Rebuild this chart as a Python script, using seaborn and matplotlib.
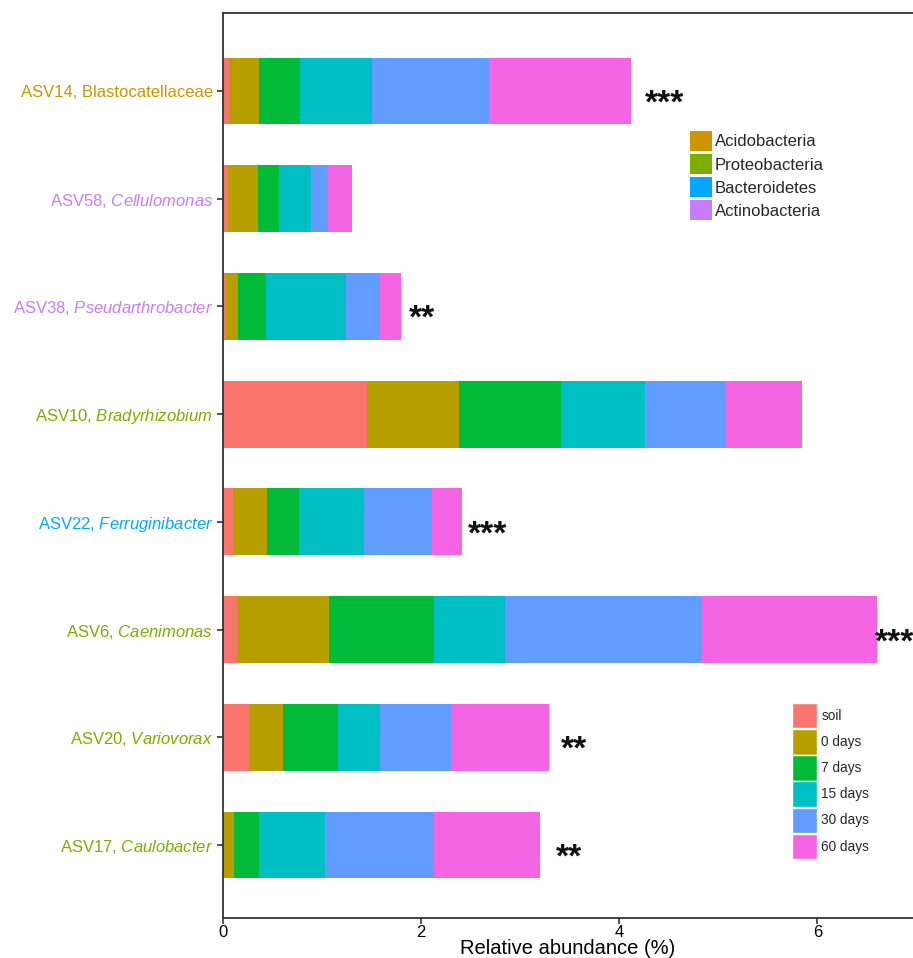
import matplotlib
matplotlib.use("Agg")
import matplotlib.pyplot as plt
from matplotlib.patches import Patch
import numpy as np
import pandas as pd
import seaborn as sns

# ---- data -------------------------------------------------------------
asv_ids = ["ASV14", "ASV58", "ASV38", "ASV10", "ASV22", "ASV6", "ASV20", "ASV17"]
taxa = ["Blastocatellaceae", "Cellulomonas", "Pseudarthrobacter", "Bradyrhizobium",
        "Ferruginibacter", "Caenimonas", "Variovorax", "Caulobacter"]
taxon_is_genus = [False, True, True, True, True, True, True, True]
phylum = ["Acidobacteria", "Actinobacteria", "Actinobacteria", "Proteobacteria",
          "Bacteroidetes", "Proteobacteria", "Proteobacteria", "Proteobacteria"]

stages = ["soil", "0 days", "7 days", "15 days", "30 days", "60 days"]
soil = [0.06, 0.05, 0.03, 1.454, 0.104, 0.145, 0.261, 0.005]
day0 = [0.305, 0.31, 0.12, 0.931, 0.345, 0.925, 0.346, 0.108]
day7 = [0.415, 0.21, 0.285, 1.025, 0.315, 1.064, 0.555, 0.252]
day15 = [0.725, 0.325, 0.805, 0.854, 0.659, 0.713, 0.424, 0.666]
day30 = [1.185, 0.165, 0.345, 0.816, 0.687, 1.988, 0.714, 1.10]
day60 = [1.43, 0.24, 0.21, 0.763, 0.307, 1.768, 0.989, 1.069]

significance = ["***", "", "**", "", "***", "***", "**", "**"]
sig_x = [4.26, 0, 1.88, 0, 2.47, 6.58, 3.41, 3.36]

phyla = ["Acidobacteria", "Proteobacteria", "Bacteroidetes", "Actinobacteria"]
phylum_colors = ["#CD9600", "#7CAE00", "#00A9FF", "#C77CFF"]
stage_colors = ["#F8766D", "#B79F00", "#00BA38", "#00BFC4", "#619CFF", "#F564E3"]

# ---- table ------------------------------------------------------------
df = pd.DataFrame({"asv": asv_ids, "soil": soil, "0 days": day0, "7 days": day7,
                   "15 days": day15, "30 days": day30, "60 days": day60})
cum = df[stages].cumsum(axis=1)

sns.set_theme(style="white")
plt.rcParams["font.family"] = ["Liberation Sans", "DejaVu Sans"]
plt.rcParams["mathtext.fontset"] = "custom"
plt.rcParams["mathtext.rm"] = "Liberation Sans"
plt.rcParams["mathtext.it"] = "Liberation Sans:italic"

W, H = 913, 958
fig = plt.figure(figsize=(W / 100, H / 100), dpi=100)
x0_px, unit_px = 222.8, 99.1
top_px, bot_px = 13, 918
ax = fig.add_axes([x0_px / W, 1 - bot_px / H, (W - x0_px) / W, (bot_px - top_px) / H])

# stacked bars: draw cumulative totals from the outermost stage inward
for i in range(len(stages) - 1, -1, -1):
    sns.barplot(x=cum[stages[i]].values, y=df["asv"].values, orient="h",
                color=stage_colors[i], saturation=1, width=0.62,
                linewidth=0, ax=ax)

ax.set_xlim(0, (W - x0_px) / unit_px)
# bar centres at 91 px (first) and 845 px (last)
step = (845 - 91) / 7
ax.set_ylim(7 + (bot_px - 845) / step, -(91 - top_px) / step)

ax.set_xticks([0, 2, 4, 6])
ax.set_xlabel("Relative abundance (%)", fontsize=14.5, color="black", labelpad=-1)
ax.set_ylabel("")

labels = []
for a, t, g in zip(asv_ids, taxa, taxon_is_genus):
    labels.append(f"{a}, $\\mathit{{{t}}}$" if g else f"{a}, {t}")
ax.set_yticks(range(len(asv_ids)))
ax.set_yticklabels(labels, fontsize=12)
cmap = dict(zip(phyla, phylum_colors))
for lab, p in zip(ax.get_yticklabels(), phylum):
    lab.set_color(cmap[p])

ax.tick_params(axis="x", labelsize=12, labelcolor="black", length=4, width=1.2,
               color="#333333", direction="out", pad=1, bottom=True)
ax.tick_params(axis="y", length=4, width=1.2, color="#333333", direction="out",
               pad=3, left=True)

for side in ["left", "bottom", "top"]:
    ax.spines[side].set_visible(True)
    ax.spines[side].set_color("#333333")
    ax.spines[side].set_linewidth(1.3)
ax.spines["right"].set_visible(False)

# significance markers
for i, (s, xs) in enumerate(zip(significance, sig_x)):
    if s:
        ax.text(xs, i + 0.2, s, fontsize=24, fontweight="bold", color="#111111",
                ha="left", va="baseline")

# legends
stage_handles = [Patch(facecolor=c, edgecolor="white", linewidth=1.0) for c in stage_colors]
leg1 = ax.legend(stage_handles, stages, loc="upper left",
                 bbox_to_anchor=(792 / W, 1 - 703 / H), bbox_transform=fig.transFigure,
                 frameon=False, fontsize=9.8, handlelength=1.8, handleheight=2.5,
                 labelspacing=0.05, handletextpad=0.35, borderaxespad=0, borderpad=0)
ax.add_artist(leg1)

phylum_handles = [Patch(facecolor=c, edgecolor="none") for c in phylum_colors]
ax.legend(phylum_handles, phyla, loc="upper left",
          bbox_to_anchor=(690 / W, 1 - 131 / H), bbox_transform=fig.transFigure,
          frameon=False, fontsize=12, handlelength=1.3, handleheight=1.45,
          labelspacing=0.2, handletextpad=0.2, borderaxespad=0, borderpad=0)

fig.savefig("out.png", dpi=100)
